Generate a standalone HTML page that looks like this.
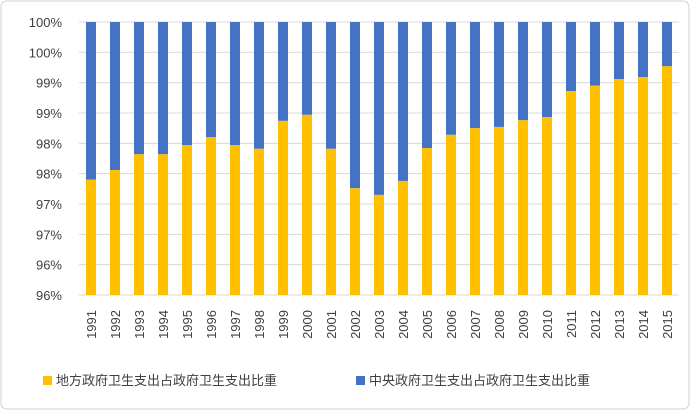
<!DOCTYPE html>
<html><head><meta charset="utf-8"><style>
body{margin:0;background:#fff;}
svg{display:block;font-family:"Liberation Sans","Noto Sans CJK SC",sans-serif;}
</style></head><body>
<svg id="chart" width="691" height="411" viewBox="0 0 691 411">
<rect x="1" y="1" width="688" height="408" rx="6" fill="#fff" stroke="#d0d0d0"/>
<g id="grid"></g><g id="bars"></g><g id="ylabels"></g><g id="xlabels"></g>
<g>
<rect x="43" y="376" width="9" height="9" fill="#FFC000"/>
<text x="56" y="385" font-size="13" fill="#404040">地方政府卫生支出占政府卫生支出比重</text>
<rect x="356" y="376" width="9" height="9" fill="#4472C4"/>
<text x="369" y="385" font-size="13" fill="#404040">中央政府卫生支出占政府卫生支出比重</text>
</g>
</svg>
<script>
const years=["1991","1992","1993","1994","1995","1996","1997","1998","1999","2000","2001","2002","2003","2004","2005","2006","2007","2008","2009","2010","2011","2012","2013","2014","2015"];
const localShare=[97.40,97.56,97.82,97.82,97.97,98.10,97.97,97.91,98.37,98.47,97.91,97.26,97.15,97.38,97.92,98.14,98.25,98.27,98.38,98.43,98.86,98.95,99.06,99.09,99.27];
const yTicks=[95.5,96,96.5,97,97.5,98,98.5,99,99.5,100];
const yMin=95.5,yMax=100,plotTop=22,plotBot=295,plotLeft=79,plotRight=679;
const ns="http://www.w3.org/2000/svg";
const yScale=v=>plotBot-(v-yMin)/(yMax-yMin)*(plotBot-plotTop);
const step=(plotRight-plotLeft)/years.length;
const xc=i=>plotLeft+step*(i+0.5);
function mk(t,a,p){const e=document.createElementNS(ns,t);for(const k in a)e.setAttribute(k,a[k]);document.getElementById(p).appendChild(e);return e;}
yTicks.forEach(t=>{
 const l=mk('line',{x1:plotLeft,x2:plotRight,y1:yScale(t),y2:yScale(t),stroke:'#d9d9d9'},'grid');
 
 
 const tx=mk('text',{x:62,y:yScale(t)+5,'text-anchor':'end','font-size':'13',fill:'#404040'},'ylabels');
 tx.textContent=Math.round(t)+'%';
 
 
});
const bw=10;
years.forEach((yr,i)=>{
 const v=localShare[i];
 const b=mk('rect',{x:xc(i)-bw/2,y:yScale(yMax),width:bw,height:yScale(v)-yScale(yMax),fill:'#4472C4'},'bars');
 
 
 const a=mk('rect',{x:xc(i)-bw/2,y:yScale(v),width:bw,height:yScale(yMin)-yScale(v),fill:'#FFC000'},'bars');
 
 
 const t=mk('text',{x:0,y:0,'text-anchor':'end','font-size':'13',fill:'#404040',transform:`translate(${xc(i)+5},${plotBot+15}) rotate(-90)`},'xlabels');
 t.textContent=yr;
 
 
});
</script>
</body></html>
